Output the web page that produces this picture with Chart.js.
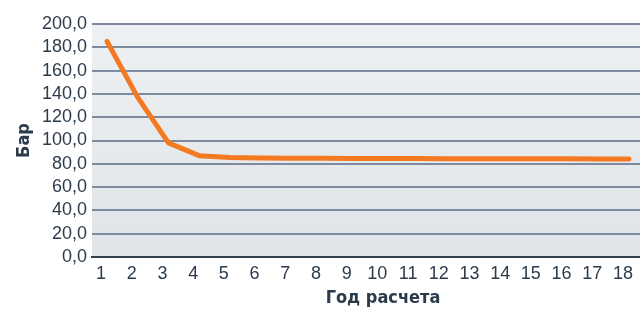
<!DOCTYPE html>
<html>
<head>
<meta charset="utf-8">
<script src="https://cdn.jsdelivr.net/npm/chart.js@4"></script>
<style>
html,body{margin:0;padding:0;background:#fff;}
#wrap{width:640px;height:309px;position:relative;}
</style>
</head>
<body>
<div id="wrap"><canvas id="c" width="640" height="309"></canvas></div>
<script>
const years = [1,2,3,4,5,6,7,8,9,10,11,12,13,14,15,16,17,18];
const pressure = [185,137,98,87,85.5,85,84.8,84.7,84.6,84.5,84.5,84.4,84.4,84.3,84.3,84.3,84.2,84.2];
const yTicks = [0,20,40,60,80,100,120,140,160,180,200];
const yTitle = 'Бар';
const xTitle = 'Год расчета';

const txt = '#2c3b4c';
const titleFont = 'bold 18px "DejaVu Sans Condensed"';
const bgPlugin = {
  id:'bg',
  beforeDraw(chart){
    const {ctx, chartArea:a} = chart;
    const g = ctx.createLinearGradient(0,a.top,0,a.bottom);
    g.addColorStop(0,'#eef1f3');
    g.addColorStop(1,'#e0e4e8');
    ctx.save();
    ctx.fillStyle = g;
    ctx.fillRect(a.left,a.top,a.right-a.left,a.bottom-a.top);
    ctx.restore();
  },
  afterDraw(chart){
    const {ctx, chartArea:a} = chart;
    ctx.save();
    ctx.fillStyle = txt;
    ctx.font = titleFont;
    ctx.textAlign = 'center';
    ctx.textBaseline = 'middle';
    ctx.fillText(xTitle, (a.left+a.right)/2 + 17, 298);
    ctx.restore();
  }
};

new Chart(document.getElementById('c'),{
  type:'line',
  data:{
    datasets:[{
      data: years.map((y,i)=>({x:y,y:pressure[i]})),
      borderColor:'#f47a22',
      borderWidth:5,
      pointRadius:0,
      tension:0,
      borderCapStyle:'round',
      borderJoinStyle:'round'
    }]
  },
  options:{
    responsive:false,
    animation:false,
    devicePixelRatio:1,
    layout:{padding:{top:24,right:0,left:0,bottom:0}},
    plugins:{legend:{display:false},tooltip:{enabled:false}},
    scales:{
      x:{
        type:'linear',
        min:0.51,
        max:18.36,
        afterBuildTicks(s){ s.ticks = years.map(v=>({value:v})); },
        afterFit(s){ s.height = 52; s.paddingRight = 0; s.paddingLeft = 0; },
        grid:{display:false, drawTicks:false},
        border:{display:true,color:'#34404f',width:2},
        ticks:{
          color:txt,
          font:{family:'Liberation Sans',size:18},
          padding:6,
          labelOffset:-6,
          maxRotation:0,
          autoSkip:false,
          callback:(v)=>String(v)
        },
        title:{display:false}
      },
      y:{
        min:0,max:200,
        afterBuildTicks(s){ s.ticks = yTicks.map(v=>({value:v})); },
        afterFit(s){ s.width = 92; },
        grid:{color:'#7d8a9f',lineWidth:2,drawTicks:false},
        border:{display:false},
        ticks:{
          color:txt,
          font:{family:'Liberation Sans',size:18},
          padding:5,
          autoSkip:false,
          callback:(v)=>v.toFixed(1).replace('.',',')
        },
        title:{display:true,text:yTitle,color:txt,
          font:{family:'DejaVu Sans Condensed',size:18,weight:'bold'},
          padding:{top:14,bottom:0}}
      }
    }
  },
  plugins:[bgPlugin]
});
</script>
</body>
</html>
